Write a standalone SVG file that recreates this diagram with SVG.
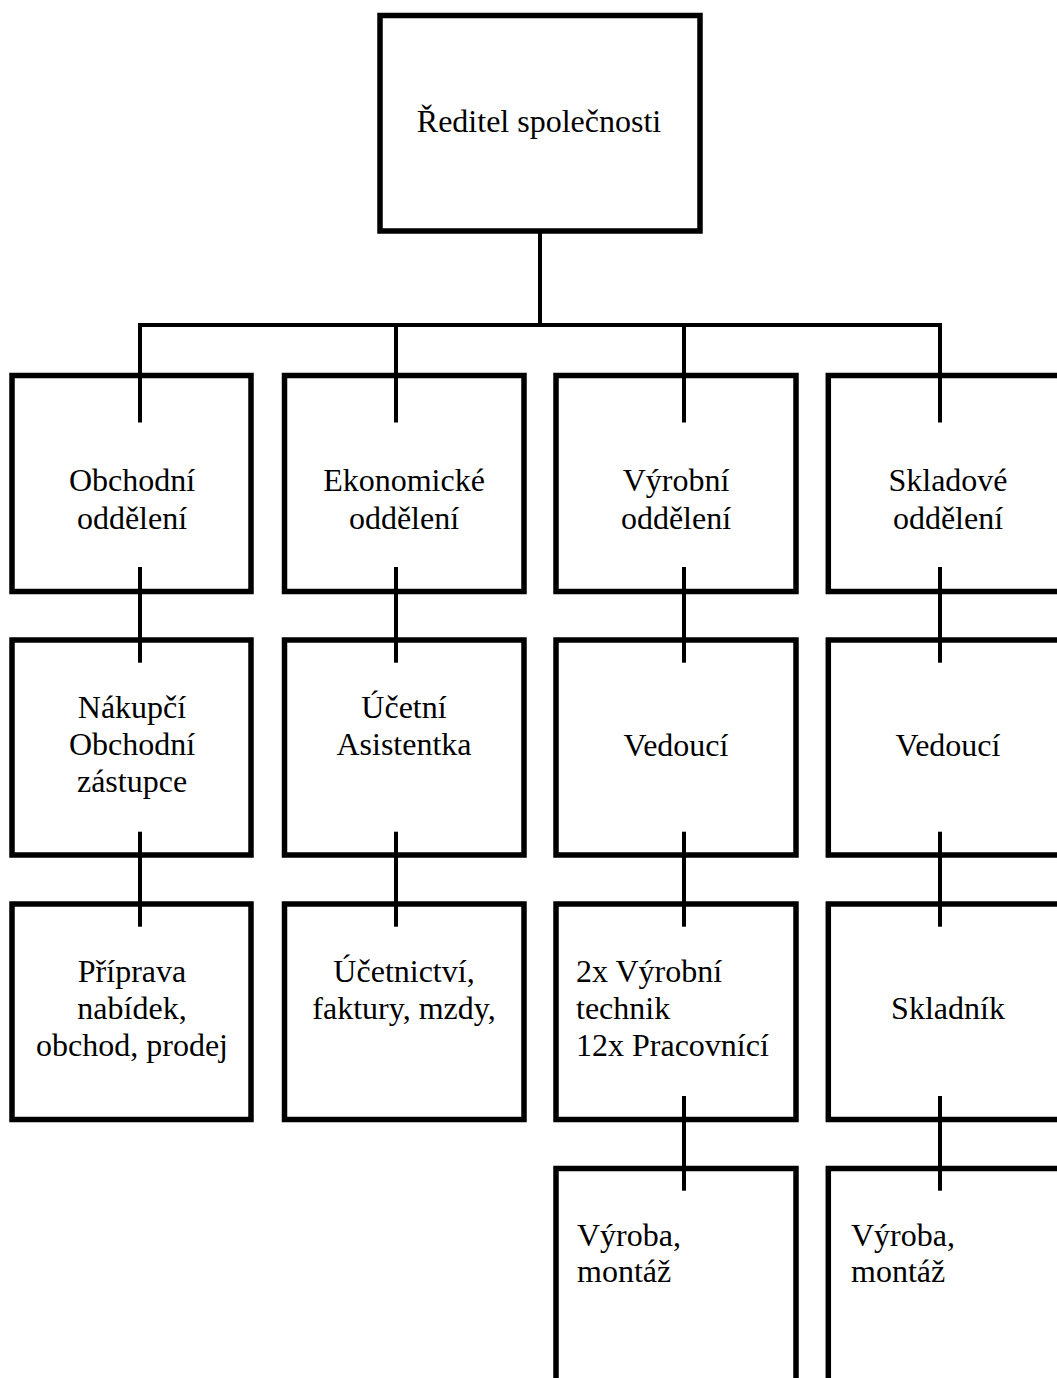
<svg xmlns="http://www.w3.org/2000/svg" width="1057" height="1378" viewBox="0 0 1057 1378">
  <style>
    .box { fill: #ffffff; stroke: #000000; stroke-width: 5.5; }
    .wire { fill: none; stroke: #000000; stroke-width: 4; }
    text { font-family: "Liberation Serif", "Times New Roman", serif; font-size: 32px; fill: #000000; }
    .c { text-anchor: middle; }
  </style>
  <rect width="1057" height="1378" fill="#ffffff"/>

  <!-- boxes -->
  <g id="reditel">
    <rect class="box" x="380" y="15.5" width="320" height="215.5"/>
    <text class="c" x="539" y="132">Ředitel společnosti</text>
  </g>

  <g id="obchodni-oddeleni">
    <rect class="box" x="12" y="375.5" width="239" height="216"/>
    <text class="c" x="132" y="491">Obchodní</text>
    <text class="c" x="132" y="528.5">oddělení</text>
  </g>
  <g id="ekonomicke-oddeleni">
    <rect class="box" x="284.5" y="375.5" width="239.5" height="216"/>
    <text class="c" x="404" y="491">Ekonomické</text>
    <text class="c" x="404" y="528.5">oddělení</text>
  </g>
  <g id="vyrobni-oddeleni">
    <rect class="box" x="556" y="375.5" width="240" height="216"/>
    <text class="c" x="676" y="491">Výrobní</text>
    <text class="c" x="676" y="528.5">oddělení</text>
  </g>
  <g id="skladove-oddeleni">
    <rect class="box" x="828.3" y="375.5" width="240" height="216"/>
    <text class="c" x="948" y="491">Skladové</text>
    <text class="c" x="948" y="528.5">oddělení</text>
  </g>

  <g id="nakupci">
    <rect class="box" x="12" y="640" width="239" height="215"/>
    <text class="c" x="132" y="718.3">Nákupčí</text>
    <text class="c" x="132" y="755.3">Obchodní</text>
    <text class="c" x="132" y="792.3">zástupce</text>
  </g>
  <g id="ucetni">
    <rect class="box" x="284.5" y="640" width="239.5" height="215"/>
    <text class="c" x="404" y="718.3">Účetní</text>
    <text class="c" x="404" y="755.3">Asistentka</text>
  </g>
  <g id="vedouci-vyroba">
    <rect class="box" x="556" y="640" width="240" height="215"/>
    <text class="c" x="676" y="755.5">Vedoucí</text>
  </g>
  <g id="vedouci-sklad">
    <rect class="box" x="828.3" y="640" width="240" height="215"/>
    <text class="c" x="948" y="755.5">Vedoucí</text>
  </g>

  <g id="priprava">
    <rect class="box" x="12" y="904" width="239" height="215.5"/>
    <text class="c" x="132" y="981.7">Příprava</text>
    <text class="c" x="132" y="1018.5">nabídek,</text>
    <text class="c" x="132" y="1055.5">obchod, prodej</text>
  </g>
  <g id="ucetnictvi">
    <rect class="box" x="284.5" y="904" width="239.5" height="215.5"/>
    <text class="c" x="404" y="981.7">Účetnictví,</text>
    <text class="c" x="404" y="1018.5">faktury, mzdy,</text>
  </g>
  <g id="pracovnici">
    <rect class="box" x="556" y="904" width="240" height="215.5"/>
    <text x="576" y="981.7">2x Výrobní</text>
    <text x="576" y="1018.5">technik</text>
    <text x="576" y="1055.5">12x Pracovnící</text>
  </g>
  <g id="skladnik">
    <rect class="box" x="828.3" y="904" width="240" height="215.5"/>
    <text class="c" x="948" y="1019">Skladník</text>
  </g>

  <g id="vyroba-montaz-1">
    <rect class="box" x="556" y="1168.5" width="240" height="260"/>
    <text x="577" y="1245.7">Výroba,</text>
    <text x="577" y="1282">montáž</text>
  </g>
  <g id="vyroba-montaz-2">
    <rect class="box" x="828.3" y="1168.5" width="240" height="260"/>
    <text x="851" y="1245.7">Výroba,</text>
    <text x="851" y="1282">montáž</text>
  </g>

  <!-- connectors -->
  <g id="connectors">
    <line class="wire" x1="540" y1="231" x2="540" y2="325"/>
    <line class="wire" x1="138" y1="325" x2="942" y2="325"/>
    <line class="wire" x1="140" y1="325" x2="140" y2="422.5"/>
    <line class="wire" x1="396" y1="325" x2="396" y2="422.5"/>
    <line class="wire" x1="684" y1="325" x2="684" y2="422.5"/>
    <line class="wire" x1="940" y1="325" x2="940" y2="422.5"/>

    <line class="wire" x1="140" y1="567" x2="140" y2="662.7"/>
    <line class="wire" x1="396" y1="567" x2="396" y2="662.7"/>
    <line class="wire" x1="684" y1="567" x2="684" y2="662.7"/>
    <line class="wire" x1="940" y1="567" x2="940" y2="662.7"/>

    <line class="wire" x1="140" y1="831.7" x2="140" y2="926.7"/>
    <line class="wire" x1="396" y1="831.7" x2="396" y2="926.7"/>
    <line class="wire" x1="684" y1="831.7" x2="684" y2="926.7"/>
    <line class="wire" x1="940" y1="831.7" x2="940" y2="926.7"/>

    <line class="wire" x1="684" y1="1096" x2="684" y2="1190.7"/>
    <line class="wire" x1="940" y1="1096" x2="940" y2="1190.7"/>
  </g>
</svg>
